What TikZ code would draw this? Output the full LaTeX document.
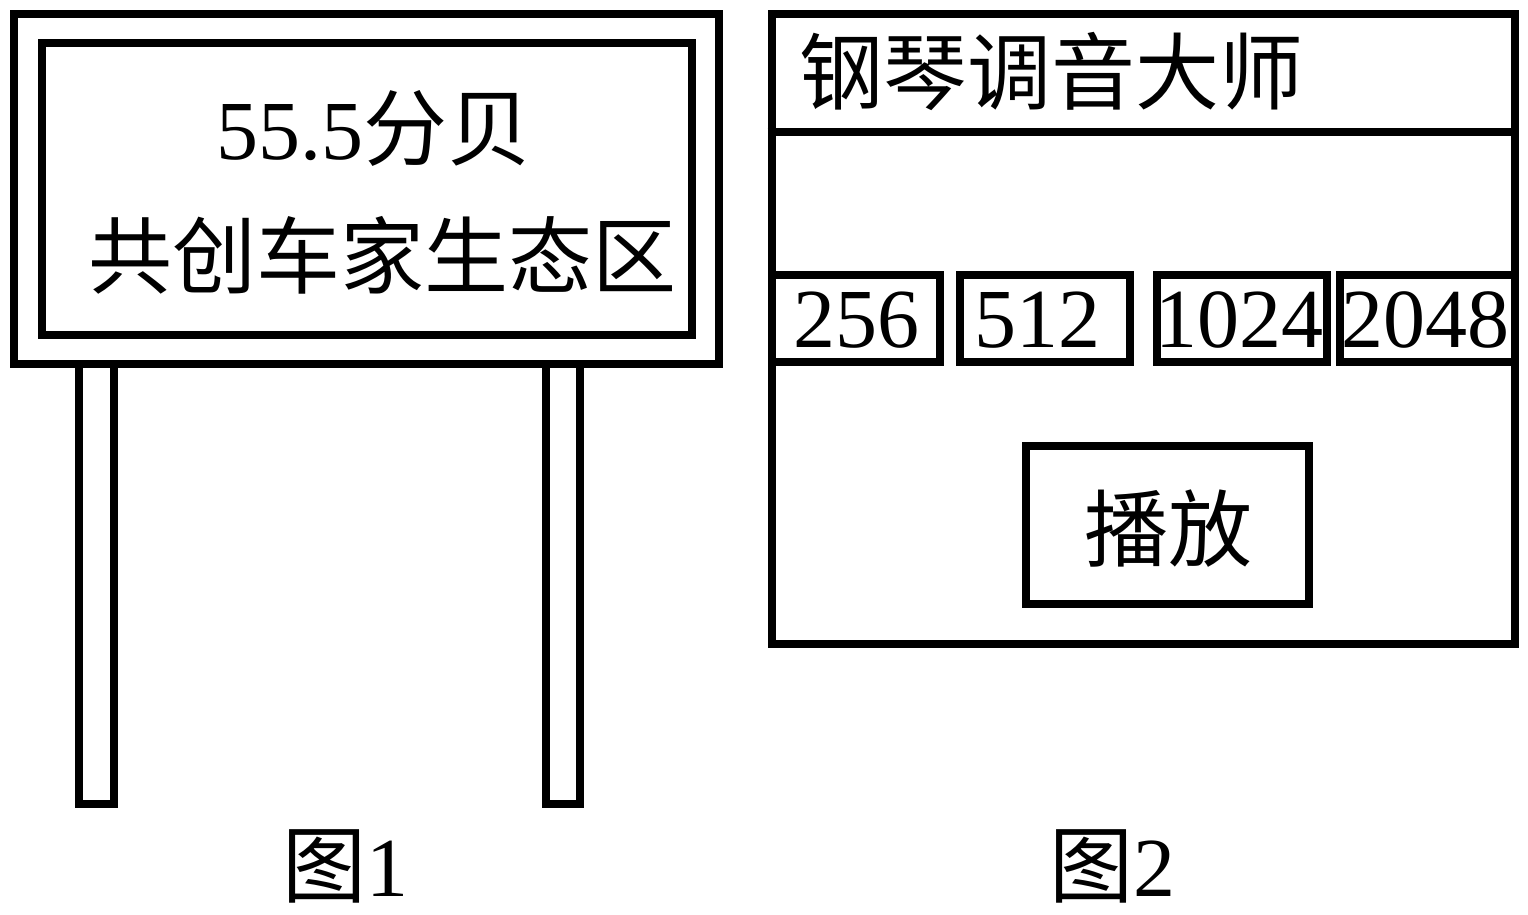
\documentclass[tikz,border=0pt]{standalone}
\usepackage{fontspec}
\setmainfont{Liberation Serif}
\newfontfamily\cjk{Noto Sans CJK SC}
\begin{document}
\begin{tikzpicture}[x=1pt,y=-1pt,
  frame/.style={draw=black,line width=8pt,fill=none},
  lbl/.style={inner sep=0pt,anchor=base,font=\fontsize{84}{100}\selectfont}]
\useasboundingbox (0,0) rectangle (1528,915);
% ---------- Figure 1: sign board ----------
\node[frame,minimum width=705.5pt,minimum height=350pt] (outerA) at (366.25,189) {};
\node[frame,minimum width=650pt,minimum height=291.5pt] (innerA) at (366.5,189.25) {};
\draw[frame] (79,364) rectangle (114,804);
\draw[frame] (546,364) rectangle (580,804);
\node[lbl] (db) at (374,160) {55.5{\cjk 分贝}};
\node[lbl] (slogan) at (382,287) {\cjk 共创车家生态区};
\node[lbl,text depth=0pt] (fig1) at (345,896) {{\cjk 图}1};
% ---------- Figure 2: app screen ----------
\node[frame,minimum width=743.5pt,minimum height=630pt] (outerB) at (1143.25,329) {};
\draw[frame] (outerB.west |- 0,132.5) -- (outerB.east |- 0,132.5);
\node[lbl,anchor=base west] (title) at (799,104) {\cjk 钢琴调音大师};
\node[frame,minimum width=168.5pt,minimum height=87pt] (b1) at (855.75,318.5) {};
\node[frame,minimum width=170pt,minimum height=87pt] (b2) at (1045,318.5) {};
\node[frame,minimum width=170pt,minimum height=87pt] (b3) at (1242,318.5) {};
\node[frame,minimum width=175pt,minimum height=87pt] (b4) at (1427.5,318.5) {};
\node[lbl] (n1) at (856,347) {256};
\node[lbl] (n2) at (1037,347) {512};
\node[lbl] (n3) at (1239,347) {1024};
\node[lbl] (n4) at (1425,347) {2048};
\node[frame,minimum width=283pt,minimum height=158pt] (play) at (1167.5,525) {};
\node[lbl] (playtxt) at (1168,560) {\cjk 播放};
\node[lbl,text depth=0pt] (fig2) at (1112,896) {{\cjk 图}2};
\end{tikzpicture}
\end{document}
